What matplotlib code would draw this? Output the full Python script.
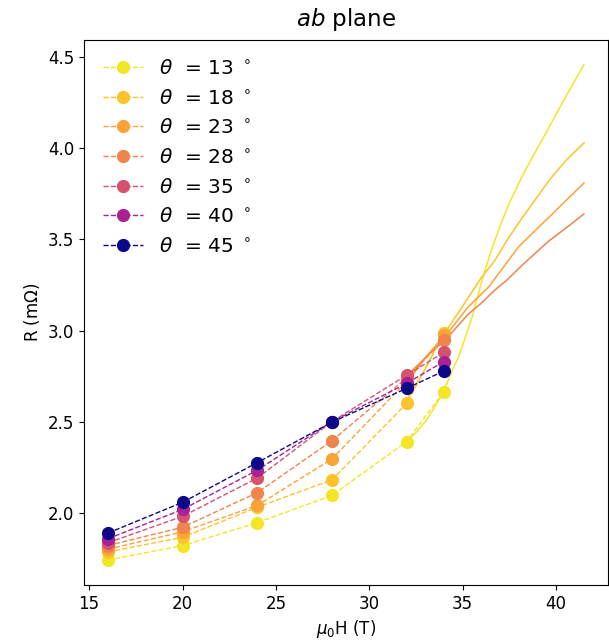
import matplotlib
matplotlib.use("Agg")
import matplotlib.pyplot as plt

# ---- data ----
angles = [13, 18, 23, 28, 35, 40, 45]
colors = ["#f2e627", "#fdc328", "#fca338", "#f0844d", "#d5536f", "#a82296", "#0d0887"]
field = [16, 20, 24, 28, 32, 34]
R_13 = [1.74, 1.82, 1.945, 2.095, 2.39, 2.665]
R_18 = [1.785, 1.865, 2.03, 2.18, 2.60, 2.985]
R_23 = [1.80, 1.895, 2.04, 2.295, 2.72, 2.975]
R_28 = [1.82, 1.92, 2.11, 2.395, 2.74, 2.95]
R_35 = [1.835, 1.98, 2.19, 2.50, 2.755, 2.88]
R_40 = [1.857, 2.018, 2.233, 2.50, 2.71, 2.83]
R_45 = [1.888, 2.057, 2.275, 2.497, 2.683, 2.778]
R_points = [R_13, R_18, R_23, R_28, R_35, R_40, R_45]

# continuous sweeps (13, 18, 23, 28 deg)
sweep_H_13 = [32.0, 32.5, 33.0, 33.5, 34.0, 34.4, 34.8, 35.5, 36.0, 36.5, 37.1, 37.6, 38.2, 39.0, 39.6, 40.5, 41.5]
sweep_R_13 = [2.39, 2.44, 2.50, 2.58, 2.67, 2.77, 2.86, 3.07, 3.26, 3.43, 3.60, 3.72, 3.85, 4.00, 4.11, 4.28, 4.46]
sweep_H_18 = [32.0, 32.5, 33.0, 33.5, 34.0, 35.3, 36.0, 36.7, 37.4, 38.2, 39.6, 40.5, 41.5]
sweep_R_18 = [2.62, 2.70, 2.79, 2.89, 2.98, 3.18, 3.29, 3.38, 3.50, 3.62, 3.82, 3.93, 4.03]
sweep_H_23 = [32.0, 32.5, 33.0, 33.5, 34.0, 35.3, 36.4, 37.2, 38.0, 38.8, 39.6, 40.5, 41.5]
sweep_R_23 = [2.71, 2.78, 2.85, 2.91, 2.96, 3.13, 3.24, 3.35, 3.46, 3.54, 3.62, 3.71, 3.81]
sweep_H_28 = [32.0, 32.5, 33.0, 33.5, 34.0, 35.3, 36.0, 36.7, 37.4, 38.2, 39.6, 40.5, 41.5]
sweep_R_28 = [2.75, 2.80, 2.85, 2.90, 2.94, 3.09, 3.15, 3.22, 3.28, 3.36, 3.49, 3.56, 3.64]
sweeps = [(sweep_H_13, sweep_R_13), (sweep_H_18, sweep_R_18),
          (sweep_H_23, sweep_R_23), (sweep_H_28, sweep_R_28)]

fig = plt.figure(figsize=(6.09, 6.42), dpi=100)
ax = fig.add_axes([0.138, 0.089, 0.86, 0.849])

for i, (H, R) in enumerate(sweeps):
    ax.plot(H, R, '-', color=colors[i], lw=1.1)

for ang, col, R in zip(angles, colors, R_points):
    ax.plot(field, R, '--', marker='o', color=col, lw=1.0, markersize=8.5,
            label=r'$\theta$  = %d $^\circ$' % ang)

ax.set_xticks([15, 20, 25, 30, 35, 40])
ax.set_yticks([2.0, 2.5, 3.0, 3.5, 4.0, 4.5])
ax.tick_params(labelsize=12)
ax.set_xlabel(r'$\mu_0$H (T)', fontsize=12)
ax.set_ylabel(r'R (m$\Omega$)', fontsize=12)
ax.set_title(r'$ab$ plane', fontsize=16.5, pad=10)
ax.legend(loc='upper left', frameon=False, fontsize=14.5, labelspacing=0.53,
          handlelength=2.0, handletextpad=0.75, borderaxespad=0.55)

fig.savefig("out.png", dpi=100)
